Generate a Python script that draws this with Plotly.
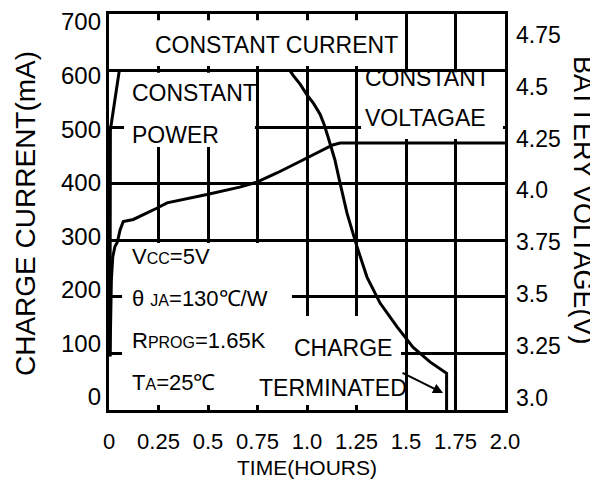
import plotly.graph_objects as go

# ---------------- data ----------------
# charge current (mA) vs time (hours)
current_time_h = [0.005, 0.007, 0.052, 0.914, 0.929, 0.965, 1.0, 1.033, 1.066, 1.086,
                  1.106, 1.141, 1.167, 1.202, 1.253, 1.303, 1.369, 1.455, 1.535, 1.621,
                  1.705, 1.705]
current_ma = [95, 495, 600, 600, 592, 576, 557, 542, 523, 505,
              483, 442, 401, 348, 288, 235, 189, 147, 111, 85,
              65, 0]

# battery voltage (V) vs time (hours)
voltage_time_h = [0.005, 0.012, 0.019, 0.03, 0.042, 0.056, 0.072, 0.123, 0.241, 0.293,
                  0.495, 0.66, 0.747, 0.848, 0.949, 1.05, 1.13, 1.167, 2.0]
voltage_v = [3.20, 3.57, 3.68, 3.73, 3.75, 3.81, 3.85, 3.86, 3.914, 3.94,
             3.98, 4.016, 4.04, 4.084, 4.132, 4.18, 4.219, 4.228, 4.228]

x_tick_vals = [0, 0.25, 0.5, 0.75, 1.0, 1.25, 1.5, 1.75, 2.0]
x_tick_text = ["0", "0.25", "0.5", "0.75", "1.0", "1.25", "1.5", "1.75", "2.0"]
current_ticks = [0, 100, 200, 300, 400, 500, 600, 700]
voltage_tick_vals = [3.0, 3.25, 3.5, 3.75, 4.0, 4.25, 4.5, 4.75]
voltage_tick_text = ["3.0", "3.25", "3.5", "3.75", "4.0", "4.25", "4.5", "4.75"]

# ---------------- layout helpers ----------------
# the page body has an 8px default margin, so the figure is drawn 8px smaller
OFF = 8
W, H = 598 - OFF, 485 - OFF
PLOT_L, PLOT_T, PLOT_R, PLOT_B = 109, 14, 505, 410   # in screenshot pixels
L, T = PLOT_L - OFF, PLOT_T - OFF
R, B = W - (PLOT_R - OFF), H - (PLOT_B - OFF)
PW, PH = PLOT_R - PLOT_L, PLOT_B - PLOT_T
FONT = "Liberation Sans, Arial, sans-serif"


def px(xp):
    return (xp - PLOT_L) / PW


def py(yp):
    return (PLOT_B - yp) / PH


fig = go.Figure()

fig.add_trace(go.Scatter(x=current_time_h, y=current_ma, mode="lines",
                         line=dict(color="black", width=3), hoverinfo="skip",
                         showlegend=False))
fig.add_trace(go.Scatter(x=voltage_time_h, y=voltage_v, mode="lines", yaxis="y2",
                         line=dict(color="black", width=3), hoverinfo="skip",
                         showlegend=False))
# carrier for the left tick-label axis
fig.add_trace(go.Scatter(x=[0], y=[0], xaxis="x2", yaxis="y3", mode="markers",
                         marker=dict(opacity=0), hoverinfo="skip", showlegend=False))

grid = dict(showgrid=True, gridcolor="black", gridwidth=2.5, zeroline=False,
            showline=True, linecolor="black", linewidth=3, mirror=True, ticks="",
            automargin=False)

fig.update_layout(
    width=W, height=H,
    margin=dict(l=L, r=R, t=T, b=B, autoexpand=False),
    paper_bgcolor="white", plot_bgcolor="rgba(0,0,0,0)",
    font=dict(family=FONT, color="black", size=22),
    xaxis=dict(range=[0, 2], tickvals=x_tick_vals, ticktext=x_tick_text,
               tickfont=dict(size=22), ticklabelstandoff=10, **grid),
    yaxis=dict(range=[0, 700], tickvals=current_ticks, showticklabels=False, **grid),
    yaxis2=dict(range=[2.942, 4.85], overlaying="y", side="right",
                tickvals=voltage_tick_vals, ticktext=voltage_tick_text,
                showgrid=False, zeroline=False, showline=False, ticks="",
                tickfont=dict(size=23), ticklabelstandoff=10, automargin=False),
    xaxis2=dict(domain=[0, 1], range=[0, 2], anchor="y3", visible=False,
                showgrid=False, automargin=False),
    yaxis3=dict(domain=[py(397), py(22)], range=[0, 700], anchor="free", position=0,
                side="left", tickvals=current_ticks, showgrid=False, zeroline=False,
                showline=False, ticks="", tickfont=dict(size=24), ticklabelstandoff=8,
                automargin=False),
)

# white patches hiding the grid behind the labels (between grid and traces)
patches = [
    (0.02, 1.485, 608, 689),
    (0.076, 0.737, 465, 596),
    (1.273, 1.99, 479, 597),
    (0.066, 0.924, 9, 295),
    (0.895, 1.475, 9, 166),
]
for x0, x1, y0, y1 in patches:
    fig.add_shape(type="rect", xref="x", yref="y", x0=x0, x1=x1, y0=y0, y1=y1,
                  fillcolor="white", line=dict(width=0), layer="between")

sub = '<span style="font-size:16px">{}</span>'
labels = [
    ("CONSTANT CURRENT", 276, 45, "center", 23),
    ("CONSTANT", 130, 93, "left", 23),
    ("POWER", 130, 135, "left", 23),
    ("CONSTANT", 363, 78, "left", 23),
    ("VOLTAGAE", 363, 118, "left", 23),
    ("V" + sub.format("CC") + "=5V", 130, 256, "left", 22),
    ("θ " + sub.format("JA") + "=130℃/W", 130, 298, "left", 22),
    ("R" + sub.format("PROG") + "=1.65K", 130, 340, "left", 22),
    ("T" + sub.format("A") + "=25℃", 130, 382, "left", 22),
    ("CHARGE", 292, 348, "left", 23),
    ("TERMINATED", 257, 388, "left", 23),
]
for text, xp, yp, anchor, size in labels:
    fig.add_annotation(text=text, xref="paper", yref="paper", x=px(xp), y=py(yp),
                       xanchor=anchor, yanchor="middle", showarrow=False,
                       font=dict(size=size))

# termination arrow
fig.add_annotation(text="", xref="x", yref="y", x=1.687, y=30, ax=-42, ay=-21,
                   showarrow=True, arrowhead=2, arrowsize=1, arrowwidth=2,
                   arrowcolor="black")

# axis titles
fig.add_annotation(text="CHARGE CURRENT(mA)", xref="paper", yref="paper",
                   x=px(26), y=py(214), textangle=-90, showarrow=False,
                   xanchor="center", yanchor="middle", font=dict(size=28))
fig.add_annotation(text="BATTERY VOLTAGE(V)", xref="paper", yref="paper",
                   x=px(583), y=py(200), textangle=90, showarrow=False,
                   xanchor="center", yanchor="middle", font=dict(size=27))
fig.add_annotation(text="TIME(HOURS)", xref="paper", yref="paper",
                   x=px(307), y=py(467), showarrow=False,
                   xanchor="center", yanchor="middle", font=dict(size=21))

fig.write_html("out.html")
